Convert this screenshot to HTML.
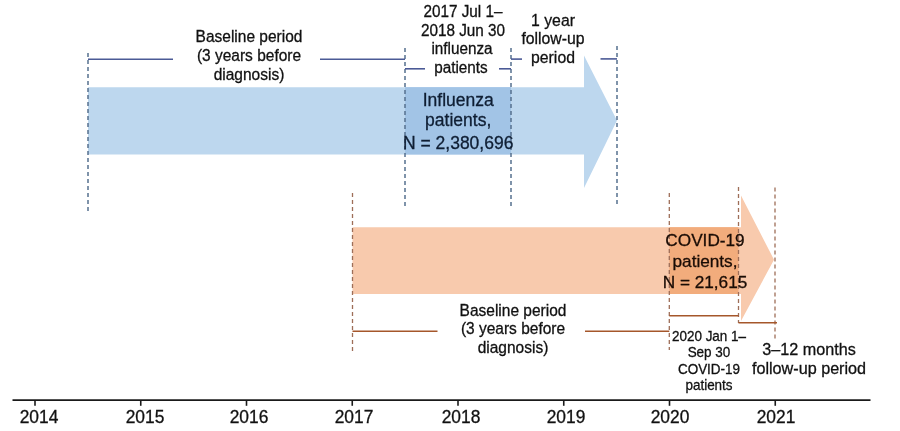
<!DOCTYPE html><html><head><meta charset="utf-8"><style>
html,body{margin:0;padding:0;background:#fff;}
#c{position:relative;width:900px;height:431px;overflow:hidden;background:#fff;font-family:"Liberation Sans",sans-serif;filter:blur(0.3px);}
svg{position:absolute;left:0;top:0;}
.t{position:absolute;white-space:nowrap;line-height:1;-webkit-text-stroke:0.3px currentColor;}
</style></head><body><div id="c">
<svg width="900" height="431" viewBox="0 0 900 431"><polygon points="88,87.2 584,87.2 584,55.5 617,120.5 584,188 584,154.5 88,154.5" fill="#bdd7ee"/><rect x="405" y="87.2" width="106" height="67.3" fill="#a2c4e6"/><polygon points="352.5,227.2 741,227.2 741,195.5 774,259.7 741,321 741,294 352.5,294" fill="#f8caad"/><rect x="669.3" y="227.2" width="69.2" height="66.8" fill="#f2ac7c"/><line x1="88" y1="53" x2="88" y2="211" stroke="#56708f" stroke-width="1.5" stroke-dasharray="4 3"/><line x1="405" y1="48" x2="405" y2="206" stroke="#56708f" stroke-width="1.5" stroke-dasharray="4 3"/><line x1="511" y1="48" x2="511" y2="206" stroke="#56708f" stroke-width="1.5" stroke-dasharray="4 3"/><line x1="617" y1="46" x2="617" y2="204" stroke="#56708f" stroke-width="1.5" stroke-dasharray="4 3"/><line x1="352.5" y1="193" x2="352.5" y2="351" stroke="#9e6e58" stroke-width="1.3" stroke-dasharray="4 3"/><line x1="669.3" y1="193" x2="669.3" y2="350" stroke="#9e6e58" stroke-width="1.3" stroke-dasharray="4 3"/><line x1="738.5" y1="187" x2="738.5" y2="323" stroke="#9e6e58" stroke-width="1.3" stroke-dasharray="4 3"/><line x1="775" y1="187.5" x2="775" y2="340" stroke="#9e6e58" stroke-width="1.3" stroke-dasharray="4 3"/><line x1="88" y1="59.3" x2="173" y2="59.3" stroke="#4b5a96" stroke-width="1.6"/><line x1="320" y1="59.3" x2="405" y2="59.3" stroke="#4b5a96" stroke-width="1.6"/><line x1="405" y1="68.8" x2="425" y2="68.8" stroke="#4b5a96" stroke-width="1.6"/><line x1="499" y1="68.8" x2="511" y2="68.8" stroke="#4b5a96" stroke-width="1.6"/><line x1="511" y1="59.1" x2="522" y2="59.1" stroke="#4b5a96" stroke-width="1.6"/><line x1="600.5" y1="58.9" x2="617" y2="58.9" stroke="#4b5a96" stroke-width="1.6"/><line x1="352.5" y1="331.2" x2="437.5" y2="331.2" stroke="#a5572b" stroke-width="1.6"/><line x1="585" y1="331.2" x2="669.3" y2="331.2" stroke="#a5572b" stroke-width="1.6"/><line x1="669.3" y1="315.8" x2="738.5" y2="315.8" stroke="#a5572b" stroke-width="1.6"/><line x1="738.5" y1="322.7" x2="777" y2="322.7" stroke="#a5572b" stroke-width="1.6"/><line x1="12.5" y1="400.2" x2="870.5" y2="400.2" stroke="#1a1a1a" stroke-width="1.8"/><line x1="35.00" y1="400" x2="35.00" y2="405.8" stroke="#1a1a1a" stroke-width="1.6"/><line x1="140.75" y1="400" x2="140.75" y2="405.8" stroke="#1a1a1a" stroke-width="1.6"/><line x1="246.50" y1="400" x2="246.50" y2="405.8" stroke="#1a1a1a" stroke-width="1.6"/><line x1="352.25" y1="400" x2="352.25" y2="405.8" stroke="#1a1a1a" stroke-width="1.6"/><line x1="458.00" y1="400" x2="458.00" y2="405.8" stroke="#1a1a1a" stroke-width="1.6"/><line x1="563.75" y1="400" x2="563.75" y2="405.8" stroke="#1a1a1a" stroke-width="1.6"/><line x1="669.50" y1="400" x2="669.50" y2="405.8" stroke="#1a1a1a" stroke-width="1.6"/><line x1="775.25" y1="400" x2="775.25" y2="405.8" stroke="#1a1a1a" stroke-width="1.6"/></svg>
<div class="t" style="left:248.6px;top:27.82px;font-size:16.43px;color:#111;transform:translateX(-50%) scaleX(0.943)">Baseline period</div>
<div class="t" style="left:248.6px;top:47.32px;font-size:16.43px;color:#111;transform:translateX(-50%) scaleX(0.943)">(3 years before</div>
<div class="t" style="left:248.6px;top:66.01px;font-size:16.43px;color:#111;transform:translateX(-50%) scaleX(0.943)">diagnosis)</div>
<div class="t" style="left:463.3px;top:2.81px;font-size:16.22px;color:#111;transform:translateX(-50%) scaleX(0.943)">2017 Jul 1–</div>
<div class="t" style="left:462.5px;top:21.50px;font-size:16.22px;color:#111;transform:translateX(-50%) scaleX(0.943)">2018 Jun 30</div>
<div class="t" style="left:462.3px;top:40.00px;font-size:16.22px;color:#111;transform:translateX(-50%) scaleX(0.943)">influenza</div>
<div class="t" style="left:460.6px;top:58.91px;font-size:16.22px;color:#111;transform:translateX(-50%) scaleX(0.943)">patients</div>
<div class="t" style="left:552.5px;top:12.81px;font-size:16.75px;color:#111;transform:translateX(-50%) scaleX(0.943)">1 year</div>
<div class="t" style="left:552.5px;top:31.01px;font-size:16.75px;color:#111;transform:translateX(-50%) scaleX(0.943)">follow-up</div>
<div class="t" style="left:552.5px;top:50.01px;font-size:16.75px;color:#111;transform:translateX(-50%) scaleX(0.943)">period</div>
<div class="t" style="left:458.2px;top:91.61px;font-size:17.5px;color:#0f1e33;transform:translateX(-50%) scaleX(1.000)">Influenza</div>
<div class="t" style="left:458.2px;top:112.00px;font-size:17.5px;color:#0f1e33;transform:translateX(-50%) scaleX(1.000)">patients,</div>
<div class="t" style="left:458.2px;top:134.71px;font-size:17.5px;color:#0f1e33;transform:translateX(-50%) scaleX(1.000)">N = 2,380,696</div>
<div class="t" style="left:705.0px;top:231.91px;font-size:17.2px;color:#1a0c05;transform:translateX(-50%) scaleX(1.000)">COVID-19</div>
<div class="t" style="left:705.0px;top:253.00px;font-size:17.2px;color:#1a0c05;transform:translateX(-50%) scaleX(1.000)">patients,</div>
<div class="t" style="left:705.0px;top:274.00px;font-size:17.2px;color:#1a0c05;transform:translateX(-50%) scaleX(1.000)">N = 21,615</div>
<div class="t" style="left:512.6px;top:301.51px;font-size:16.43px;color:#111;transform:translateX(-50%) scaleX(0.943)">Baseline period</div>
<div class="t" style="left:512.6px;top:320.21px;font-size:16.43px;color:#111;transform:translateX(-50%) scaleX(0.943)">(3 years before</div>
<div class="t" style="left:512.6px;top:338.61px;font-size:16.43px;color:#111;transform:translateX(-50%) scaleX(0.943)">diagnosis)</div>
<div class="t" style="left:709.4px;top:328.60px;font-size:14.31px;color:#111;transform:translateX(-50%) scaleX(0.943)">2020 Jan 1–</div>
<div class="t" style="left:709.4px;top:345.01px;font-size:14.31px;color:#111;transform:translateX(-50%) scaleX(0.943)">Sep 30</div>
<div class="t" style="left:709.4px;top:361.91px;font-size:14.31px;color:#111;transform:translateX(-50%) scaleX(0.943)">COVID-19</div>
<div class="t" style="left:709.4px;top:378.30px;font-size:14.31px;color:#111;transform:translateX(-50%) scaleX(0.943)">patients</div>
<div class="t" style="left:808.6px;top:340.71px;font-size:17.17px;color:#111;transform:translateX(-50%) scaleX(0.943)">3–12 months</div>
<div class="t" style="left:808.6px;top:359.50px;font-size:17.17px;color:#111;transform:translateX(-50%) scaleX(0.943)">follow-up period</div>
<div class="t" style="left:39.3px;top:408.81px;font-size:17.92px;color:#111;transform:translateX(-50%) scaleX(0.971)">2014</div>
<div class="t" style="left:144.8px;top:408.81px;font-size:17.92px;color:#111;transform:translateX(-50%) scaleX(0.971)">2015</div>
<div class="t" style="left:248.8px;top:408.81px;font-size:17.92px;color:#111;transform:translateX(-50%) scaleX(0.971)">2016</div>
<div class="t" style="left:353.9px;top:408.81px;font-size:17.92px;color:#111;transform:translateX(-50%) scaleX(0.971)">2017</div>
<div class="t" style="left:460.8px;top:408.81px;font-size:17.92px;color:#111;transform:translateX(-50%) scaleX(0.971)">2018</div>
<div class="t" style="left:565.8px;top:408.81px;font-size:17.92px;color:#111;transform:translateX(-50%) scaleX(0.971)">2019</div>
<div class="t" style="left:670.3px;top:408.81px;font-size:17.92px;color:#111;transform:translateX(-50%) scaleX(0.971)">2020</div>
<div class="t" style="left:775.5px;top:408.81px;font-size:17.92px;color:#111;transform:translateX(-50%) scaleX(0.971)">2021</div>
</div></body></html>
